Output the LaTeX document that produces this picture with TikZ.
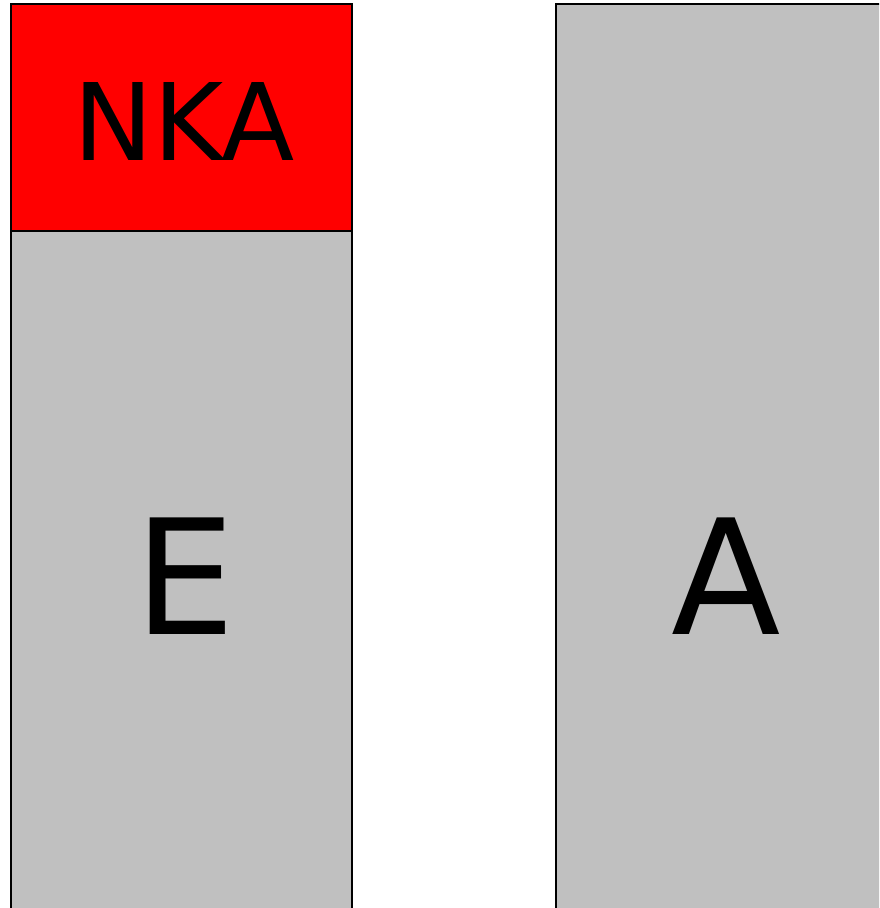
\documentclass[tikz,border=0pt]{standalone}
\usepackage{fontspec}
\setmainfont{DejaVu Sans}
\begin{document}
\begin{tikzpicture}[x=1pt,y=-1pt,
  box/.style={draw=black,line width=2pt},
  lbl/.style={anchor=base,inner sep=0pt,text=black}]
\useasboundingbox (0,0) rectangle (879,908);
\clip (0,0) rectangle (879,908);
\fill[white] (0,0) rectangle (879,908);
\filldraw[box,fill={rgb,255:red,192;green,192;blue,192}] (11,231) rectangle (352,940);
\filldraw[box,fill=red] (11,4) rectangle (352,231);
\filldraw[box,fill={rgb,255:red,192;green,192;blue,192}] (556,4) rectangle (920,940);
\node[lbl,font=\fontsize{107}{115}\selectfont] (nka) at (184,160) {NKA};
\node[lbl,font=\fontsize{160}{170}\selectfont] (e) at (185,634) {E};
\node[lbl,font=\fontsize{160}{170}\selectfont] (a) at (726,634) {A};
\end{tikzpicture}
\end{document}
